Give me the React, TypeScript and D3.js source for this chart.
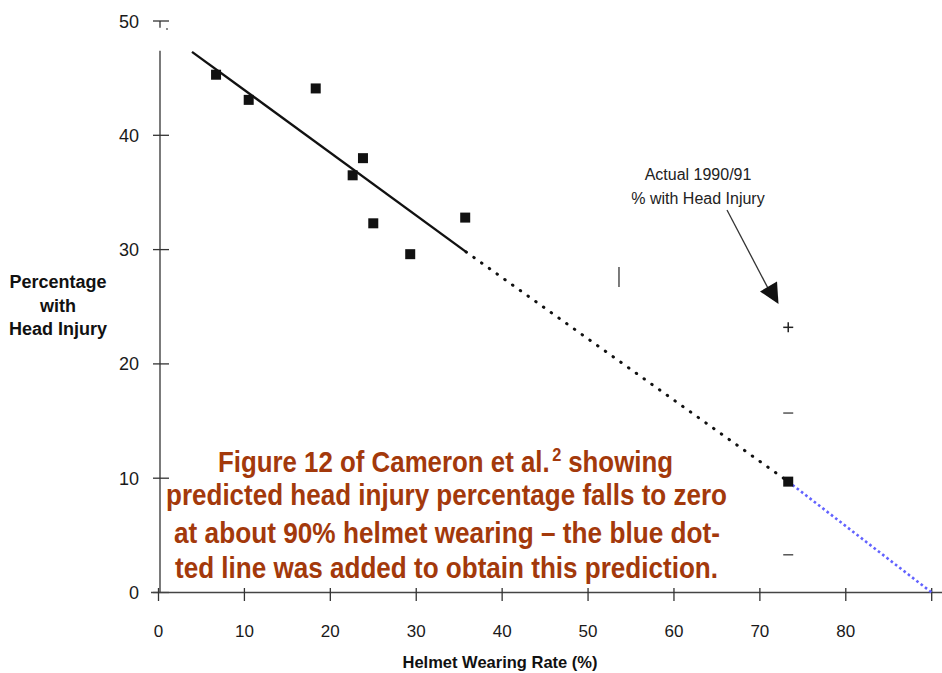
import * as d3 from "d3";
import React from "react";

// observed points (helmet wearing %, % with head injury)
const wearRate = [6.7, 10.5, 18.3, 22.6, 23.8, 25.0, 29.3, 35.7, 73.3];
const injuryPct = [45.3, 43.1, 44.1, 36.5, 38.0, 32.3, 29.6, 32.8, 9.7];

// regression line pieces
const fitX = [3.9, 35.8];
const fitY = [47.3, 29.8];
const projX = [35.8, 73.3];
const projY = [29.8, 9.7];
const blueX = [73.3, 90];
const blueY = [9.7, 0];

// stray marks left over on the scanned figure
const plusMarks = [[73.3, 23.2]];
const dashMarks = [[73.3, 15.7], [73.3, 3.3]];
const barMarks = [[53.6, 27.6]];

const xTicks = [0, 10, 20, 30, 40, 50, 60, 70, 80];
const yTicks = [0, 10, 20, 30, 40, 50];

const noteLines = [
  "predicted head injury percentage falls to zero",
  "at about 90% helmet wearing \u2013 the blue dot-",
  "ted line was added to obtain this prediction.",
];

const width = 942,
  height = 673;

const x = d3.scaleLinear().domain([0, 90]).range([158.5, 931.7]);
const y = d3.scaleLinear().domain([0, 50]).range([592.5, 21]);

const line = d3
  .line<number[]>()
  .x((d) => x(d[0]))
  .y((d) => y(d[1]));

const zip = (a: number[], b: number[]) => a.map((v, i) => [v, b[i]]);

export default function App() {
  const axisX = 160;
  const font = "'Liberation Sans', Arial, Helvetica, sans-serif";
  const narrow = "'Liberation Sans Narrow', 'Arial Narrow', 'Liberation Sans', Arial, sans-serif";
  const brown = "#a3390b";
  const halo = { paintOrder: "stroke" as const, stroke: "#fff", strokeWidth: 3, strokeLinejoin: "round" as const };

  return (
    <svg
      width={width}
      height={height}
      style={{ position: "absolute", left: 0, top: 0, background: "#fff" }}
      fontFamily={font}
    >
      <rect width={width} height={height} fill="#fff" />

      {/* y axis */}
      <line x1={axisX} x2={axisX} y1={y(47.4)} y2={y(0)} stroke="#333" strokeWidth={1.3} />
      <line x1={axisX} x2={axisX} y1={y(50)} y2={y(49.4)} stroke="#333" strokeWidth={1.3} />
      <circle cx={167} cy={y(49.3)} r={0.9} fill="#555" />
      {yTicks.map((t) => (
        <g key={"y" + t}>
          <line x1={153} x2={169} y1={y(t)} y2={y(t)} stroke="#333" strokeWidth={1.3} />
          <text x={139} y={y(t) + 6.5} textAnchor="end" fontSize={18} fill="#1a1a1a">
            {t}
          </text>
        </g>
      ))}

      {/* x axis */}
      <line x1={151} x2={width} y1={y(0)} y2={y(0)} stroke="#444" strokeWidth={1.3} />
      {xTicks.map((t) => (
        <g key={"x" + t}>
          <line x1={x(t)} x2={x(t)} y1={588} y2={601} stroke="#333" strokeWidth={1.3} />
          <text x={x(t)} y={637} textAnchor="middle" fontSize={17} fill="#1a1a1a">
            {t}
          </text>
        </g>
      ))}
      <line x1={x(90)} x2={x(90)} y1={588} y2={601} stroke="#333" strokeWidth={1.3} />

      {/* axis titles */}
      <text x={500} y={668} textAnchor="middle" fontSize={16.5} fontWeight="bold" fill="#111">
        Helmet Wearing Rate (%)
      </text>
      <text textAnchor="middle" fontSize={18} fontWeight="bold" fill="#111">
        <tspan x={58} y={288}>Percentage</tspan>
        <tspan x={58} y={312}>with</tspan>
        <tspan x={58} y={335}>Head Injury</tspan>
      </text>

      {/* fitted line, projection and added blue extension */}
      <path d={line(zip(fitX, fitY)) || ""} fill="none" stroke="#111" strokeWidth={2.4} />
      <path
        d={line(zip(projX, projY)) || ""}
        fill="none"
        stroke="#111"
        strokeWidth={3}
        strokeLinecap="round"
        strokeDasharray="0.5 9"
      />
      <path
        d={line(zip(blueX, blueY)) || ""}
        fill="none"
        stroke="#6262ff"
        strokeWidth={2.6}
        strokeDasharray="2.6 2.8"
      />

      {/* stray marks */}
      {plusMarks.map((d, i) => (
        <g key={"p" + i} stroke="#222" strokeWidth={1.5}>
          <line x1={x(d[0]) - 5} x2={x(d[0]) + 5} y1={y(d[1])} y2={y(d[1])} />
          <line x1={x(d[0])} x2={x(d[0])} y1={y(d[1]) - 5} y2={y(d[1]) + 5} />
        </g>
      ))}
      {dashMarks.map((d, i) => (
        <line key={"d" + i} x1={x(d[0]) - 5} x2={x(d[0]) + 5} y1={y(d[1])} y2={y(d[1])} stroke="#555" strokeWidth={1.5} />
      ))}
      {barMarks.map((d, i) => (
        <line key={"b" + i} x1={x(d[0])} x2={x(d[0])} y1={y(d[1]) - 10} y2={y(d[1]) + 10} stroke="#444" strokeWidth={1.4} />
      ))}

      {/* data squares */}
      {wearRate.map((w, i) => (
        <rect key={"s" + i} x={x(w) - 5} y={y(injuryPct[i]) - 5} width={10} height={10} fill="#111" />
      ))}

      {/* annotation */}
      <text textAnchor="middle" fontSize={16} fill="#222">
        <tspan x={698} y={180}>Actual 1990/91</tspan>
        <tspan x={698} y={204}>% with Head Injury</tspan>
      </text>
      <line x1={727} y1={210} x2={770} y2={292} stroke="#333" strokeWidth={1.3} />
      <polygon points="760,291.5 777,281.5 778.5,304" fill="#111" />

      {/* overlay note */}
      <g fontFamily={narrow} fontWeight="bold" fill={brown} fontSize={30} style={halo}>
        <text x={218} y={472} textLength={455} lengthAdjust="spacingAndGlyphs">
          Figure 12 of Cameron et al.
          <tspan dx={3} dy={-11} fontSize={19}>2</tspan>
          <tspan dx={8} dy={11}>showing</tspan>
        </text>
        <text x={166} y={505} textLength={561} lengthAdjust="spacingAndGlyphs">
          {noteLines[0]}
        </text>
        <text x={174} y={543} textLength={546} lengthAdjust="spacingAndGlyphs">
          {noteLines[1]}
        </text>
        <text x={175} y={578} textLength={543} lengthAdjust="spacingAndGlyphs">
          {noteLines[2]}
        </text>
      </g>
    </svg>
  );
}
